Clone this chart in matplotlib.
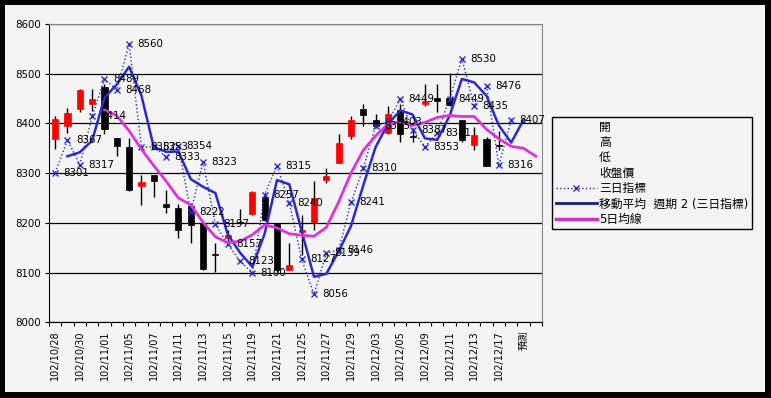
import matplotlib.pyplot as plt
from matplotlib.lines import Line2D
from matplotlib.patches import Rectangle
import numpy as np

plt.rcParams['font.family'] = ['DejaVu Sans', 'Noto Sans CJK TC']

# trading days (last one is the forecast slot)
dates = ["102/10/28", "102/10/29", "102/10/30", "102/10/31", "102/11/01", "102/11/04",
         "102/11/05", "102/11/06", "102/11/07", "102/11/08", "102/11/11", "102/11/12",
         "102/11/13", "102/11/14", "102/11/15", "102/11/18", "102/11/19", "102/11/20",
         "102/11/21", "102/11/22", "102/11/25", "102/11/26", "102/11/27", "102/11/28",
         "102/11/29", "102/12/02", "102/12/03", "102/12/04", "102/12/05", "102/12/06",
         "102/12/09", "102/12/10", "102/12/11", "102/12/12", "102/12/13", "102/12/16",
         "102/12/17", "102/12/18", "預測", ""]

open_ = [8368, 8395, 8430, 8440, 8474, 8371, 8353, 8275, 8297, 8237, 8230, 8233, 8200,
         8138, 8170, 8201, 8217, 8253, 8198, 8106, 8181, 8201, 8287, 8321, 8375, 8430,
         8407, 8381, 8428, 8374, 8440, 8452, 8452, 8407, 8356, 8368, 8355]
high = [8414, 8432, 8470, 8469, 8479, 8371, 8371, 8297, 8297, 8267, 8237, 8240, 8203,
        8159, 8186, 8227, 8264, 8260, 8200, 8159, 8216, 8284, 8311, 8378, 8414, 8439,
        8418, 8435, 8439, 8390, 8479, 8479, 8502, 8407, 8392, 8373, 8385]
low = [8349, 8381, 8422, 8425, 8378, 8334, 8264, 8235, 8252, 8219, 8170, 8160, 8106,
       8102, 8159, 8198, 8215, 8203, 8102, 8106, 8136, 8186, 8281, 8321, 8368, 8395,
       8390, 8378, 8362, 8362, 8435, 8424, 8435, 8362, 8346, 8314, 8347]
close = [8408, 8420, 8467, 8450, 8389, 8354, 8266, 8282, 8284, 8232, 8186, 8196, 8107,
         8136, 8176, 8200, 8262, 8206, 8106, 8116, 8186, 8250, 8295, 8361, 8407, 8416,
         8395, 8418, 8378, 8373, 8446, 8446, 8437, 8366, 8376, 8314, 8354]

# 三日指標
ind3 = [8301, 8367, 8317, 8414, 8489, 8468, 8560, 8352, 8353, 8333, 8354, 8222, 8323,
        8197, 8157, 8123, 8100, 8257, 8315, 8240, 8127, 8056, 8139, 8146, 8241, 8310,
        8395, 8403, 8449, 8387, 8353, 8381, 8449, 8530, 8435, 8476, 8316, 8407]

# 移動平均 週期 2 (三日指標), starts at index 1
ma2 = [8334, 8342, 8365.5, 8451.5, 8478.5, 8514, 8456, 8352.5, 8343, 8343.5, 8288,
       8272.5, 8260, 8177, 8140, 8111.5, 8178.5, 8286, 8277.5, 8183.5, 8091.5, 8097.5,
       8142.5, 8193.5, 8275.5, 8352.5, 8399, 8426, 8418, 8370, 8367, 8415, 8489.5,
       8482.5, 8455.5, 8396, 8361.5, 8407]

# 5日均線, starts at index 4
ma5 = [8427, 8416, 8385, 8348, 8315, 8284, 8250, 8236, 8201, 8172, 8160, 8163, 8176,
       8196, 8190, 8178, 8175, 8173, 8191, 8242, 8300, 8346, 8375, 8399, 8403, 8396,
       8402, 8412, 8416, 8414, 8414, 8388, 8369, 8354, 8350, 8334]

bg = "#f4f4f4"
blue = "#2a2ad0"

fig = plt.figure(figsize=(7.71, 3.98), dpi=100)
fig.patch.set_facecolor("black")
fig.add_artist(Rectangle((5 / 771, 6 / 398), 760 / 771, 387 / 398,
                         transform=fig.transFigure, facecolor=bg, edgecolor="none", zorder=0))

ax = fig.add_axes([49 / 771, 1 - 322.3 / 398, 493 / 771, 298.3 / 398])
ax.set_facecolor(bg)

# candles
x = np.arange(len(close))
for i in x:
    o, c = open_[i], close[i]
    col = "#ff0000" if c > o else "black"
    ax.vlines(i, low[i], high[i], color="black", lw=1, zorder=2)
    ax.bar(i, max(abs(c - o), 2), bottom=min(o, c), width=0.5, color=col,
           edgecolor=col, lw=0.5, zorder=3)

ax.plot(np.arange(len(ind3)), ind3, ls=":", color=blue, lw=1, marker="x",
        markersize=5, mew=1, zorder=4)
ax.plot(np.arange(1, 1 + len(ma2)), ma2, color=blue, lw=1.8, zorder=5)
ax.plot(np.arange(4, 4 + len(ma5)), ma5, color="#dd33dd", lw=2, zorder=5)

for i, v in enumerate(ind3):
    ax.annotate(str(v), (i, v), xytext=(6, 0), textcoords="offset points",
                ha="left", va="center", fontsize=7.4, zorder=6)

ax.set_xlim(-0.5, 39.5)
ax.set_ylim(8000, 8600)
ax.set_yticks(range(8000, 8601, 100))
ax.yaxis.grid(True, color="black", lw=0.9)
ax.set_axisbelow(True)
ax.tick_params(axis="y", labelsize=7.4, length=3, pad=3)

ax.set_xticks(np.arange(-0.5, 40, 1))
ax.set_xticklabels([])
ax.set_xticks(np.arange(0, 40, 2), minor=True)
ax.set_xticklabels(dates[::2], minor=True, rotation=90, fontsize=7)
ax.tick_params(axis="x", which="major", length=3)
ax.tick_params(axis="x", which="minor", length=0, pad=6)

ax.spines["top"].set_color("#888888")
ax.spines["right"].set_color("#888888")

handles = [Line2D([], [], ls="none"), Line2D([], [], ls="none"),
           Line2D([], [], ls="none"), Line2D([], [], ls="none"),
           Line2D([], [], ls=":", color=blue, marker="x", markersize=5, lw=1),
           Line2D([], [], color="#1a1a90", lw=2),
           Line2D([], [], color="#cc33cc", lw=2.5)]
labels = ["開", "高", "低", "收盤價", "三日指標", "移動平均  週期 2 (三日指標)", "5日均線"]
leg = fig.legend(handles, labels, loc="upper left", bbox_to_anchor=(552 / 771, 1 - 117 / 398),
                 fontsize=8.5, frameon=True, fancybox=False, edgecolor="black",
                 facecolor=bg, framealpha=1, handlelength=3.5, handletextpad=0.2,
                 labelspacing=0.2, borderpad=0.3, numpoints=1, borderaxespad=0)
leg.get_frame().set_linewidth(1)

fig.savefig("out.png", dpi=100, facecolor=fig.get_facecolor())
